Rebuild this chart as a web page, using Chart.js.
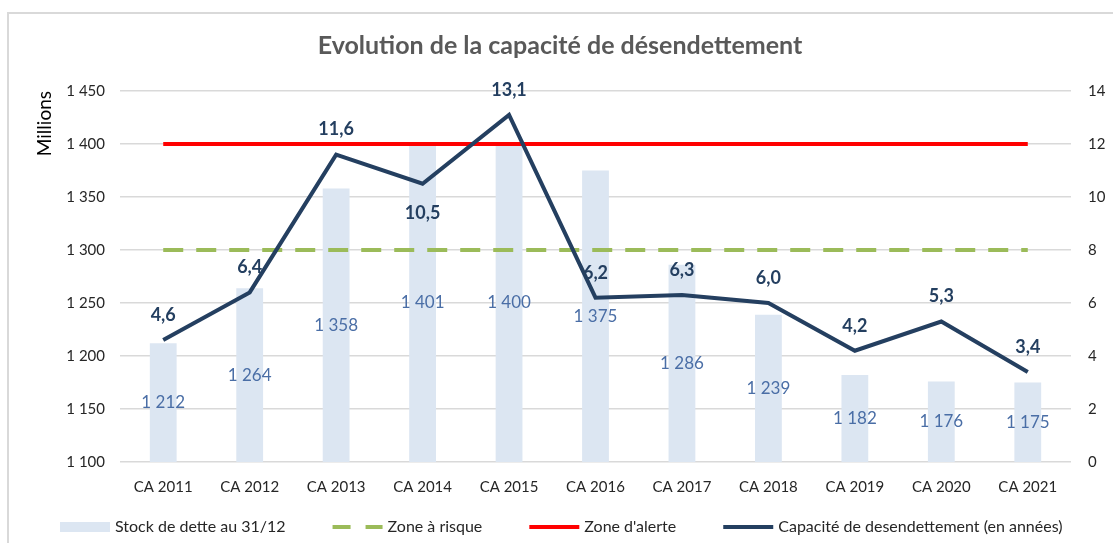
<!DOCTYPE html>
<html>
<head>
<meta charset="utf-8">
<title>Evolution de la capacité de désendettement</title>
<script src="https://cdn.jsdelivr.net/npm/chart.js@4.4.1/dist/chart.umd.min.js"></script>
<style>
    html, body { margin: 0; padding: 0; background: #fff; }
    #wrap { position: relative; width: 1113px; height: 543px; }
</style>
</head>
<body>
<div id="wrap"><canvas id="myChart"></canvas></div>
<script>
const categories = ["CA 2011", "CA 2012", "CA 2013", "CA 2014", "CA 2015", "CA 2016",
                    "CA 2017", "CA 2018", "CA 2019", "CA 2020", "CA 2021"];
// stock de dette, en millions (axe de gauche)
const stockDette = [1212, 1264, 1358, 1401, 1400, 1375, 1286, 1239, 1182, 1176, 1175];
// capacité de désendettement, en années (axe de droite)
const capacite = [4.6, 6.4, 11.6, 10.5, 13.1, 6.2, 6.3, 6.0, 4.2, 5.3, 3.4];
const zoneAlerte = [12, 12, 12, 12, 12, 12, 12, 12, 12, 12, 12];
const zoneRisque = [8, 8, 8, 8, 8, 8, 8, 8, 8, 8, 8];

const FONT = "Lato, 'Open Sans', sans-serif";
const NAVY = "#243f60";
const GRID = "#d9d9d9";

Chart.defaults.font.family = FONT;
Chart.defaults.color = "#404040";

// "1 450" style thousands
const fmt = (v) => String(v).replace(/\B(?=(\d{3})+(?!\d))/g, " ");
const fmtDec = (v) => v.toFixed(1).replace(".", ",");

// datasets: 0 capacité, 1 alerte, 2 risque, 3 stock
const data = {
    labels: categories,
    datasets: [
        {
            type: "line",
            label: "Capacité de desendettement (en années)",
            data: capacite,
            yAxisID: "y1",
            borderColor: NAVY,
            borderWidth: 4,
            pointRadius: 0,
            tension: 0,
            order: 1,
        },
        {
            type: "line",
            label: "Zone d'alerte",
            data: zoneAlerte,
            yAxisID: "y1",
            borderColor: "#ff0000",
            borderWidth: 4,
            pointRadius: 0,
            order: 2,
        },
        {
            type: "line",
            label: "Zone à risque",
            data: zoneRisque,
            yAxisID: "y1",
            borderColor: "#9bbb59",
            borderWidth: 4,
            borderDash: [20, 13],
            pointRadius: 0,
            order: 3,
        },
        {
            type: "bar",
            label: "Stock de dette au 31/12",
            data: stockDette,
            yAxisID: "y",
            backgroundColor: "#dce6f2",
            barPercentage: 0.31,
            categoryPercentage: 1,
            order: 4,
        },
    ],
};

// light frame round the chart
const frame = {
    id: "frame",
    beforeDraw(chart) {
        const { ctx } = chart;
        ctx.save();
        ctx.strokeStyle = GRID;
        ctx.lineWidth = 2;
        ctx.beginPath();
        ctx.moveTo(8, chart.height + 5);
        ctx.lineTo(8, 13);
        ctx.lineTo(chart.width + 5, 13);
        ctx.stroke();
        ctx.restore();
    },
};

// value labels: stock centred in the visible part of the bars, capacité above the line
const labelBelow = [3];
const valueLabels = {
    id: "valueLabels",
    afterDatasetsDraw(chart) {
        const { ctx } = chart;
        const yScale = chart.scales.y;
        const floor = yScale.getPixelForValue(yScale.min);
        ctx.save();
        ctx.textAlign = "center";
        ctx.textBaseline = "middle";

        ctx.font = `17px ${FONT}`;
        ctx.fillStyle = "#4a6ea6";
        chart.getDatasetMeta(3).data.forEach((bar, i) => {
            const { x, y } = bar.getProps(["x", "y"], true);
            ctx.fillText(fmt(stockDette[i]), x, (y + floor) / 2);
        });

        ctx.font = `bold 18px ${FONT}`;
        ctx.fillStyle = NAVY;
        chart.getDatasetMeta(0).data.forEach((pt, i) => {
            const dy = labelBelow.includes(i) ? 29 : -25;
            ctx.fillText(fmtDec(capacite[i]), pt.x, pt.y + dy);
        });
        ctx.restore();
    },
};

// bottom legend with wide swatches
const legendOrder = [3, 2, 1, 0];
const bottomLegend = {
    id: "bottomLegend",
    afterDraw(chart) {
        const { ctx } = chart;
        const y = 527, sw = 50, gapText = 5, gapItem = 47;
        ctx.save();
        ctx.font = `16px ${FONT}`;
        ctx.textBaseline = "middle";
        ctx.textAlign = "left";
        let x = 60;
        legendOrder.forEach((di) => {
            const ds = chart.data.datasets[di];
            if (ds.type === "bar") {
                ctx.fillStyle = ds.backgroundColor;
                ctx.fillRect(x, y - 5, sw, 10);
            } else {
                ctx.strokeStyle = ds.borderColor;
                ctx.lineWidth = 4;
                ctx.setLineDash(ds.borderDash ? [18, 15] : []);
                ctx.beginPath();
                ctx.moveTo(x, y);
                ctx.lineTo(x + sw, y);
                ctx.stroke();
                ctx.setLineDash([]);
            }
            x += sw + gapText;
            ctx.fillStyle = "#262626";
            ctx.fillText(ds.label, x, y);
            x += ctx.measureText(ds.label).width + gapItem;
        });
        ctx.restore();
    },
};

const config = {
    data,
    options: {
        responsive: true,
        maintainAspectRatio: false,
        animation: false,
        layout: {
            padding: { left: 7, right: 0, top: 0, bottom: 40 },
        },
        plugins: {
            legend: { display: false },
            tooltip: { enabled: false },
            title: {
                display: true,
                text: "Evolution de la capacité de désendettement",
                color: "#595959",
                font: { size: 25, weight: "bold" },
                padding: { top: 31, bottom: 30 },
            },
        },
        scales: {
            x: {
                grid: { display: false, drawTicks: false },
                border: { display: false },
                ticks: { padding: 16, font: { size: 15 }, color: "#262626" },
                afterFit(scale) { scale.height = 41; },
            },
            y: {
                position: "left",
                min: 1100,
                max: 1450,
                grid: { color: GRID, lineWidth: 1.5, drawTicks: false },
                border: { display: false },
                ticks: {
                    stepSize: 50,
                    padding: 15,
                    font: { size: 15 },
                    color: "#262626",
                    callback: (v) => fmt(v),
                },
                title: {
                    display: true,
                    text: "Millions",
                    align: "end",
                    color: "#000",
                    font: { size: 19 },
                    padding: { top: 26, bottom: 0 },
                },
                afterFit(scale) { scale.width = 113; },
            },
            y1: {
                position: "right",
                min: 0,
                max: 14,
                grid: { display: false, drawTicks: false },
                border: { display: false },
                ticks: { stepSize: 2, padding: 17, font: { size: 15 }, color: "#262626" },
                afterFit(scale) { scale.width = 42; },
            },
        },
    },
    plugins: [frame, valueLabels, bottomLegend],
};

const myChart = new Chart(document.getElementById("myChart"), config);
</script>
</body>
</html>
